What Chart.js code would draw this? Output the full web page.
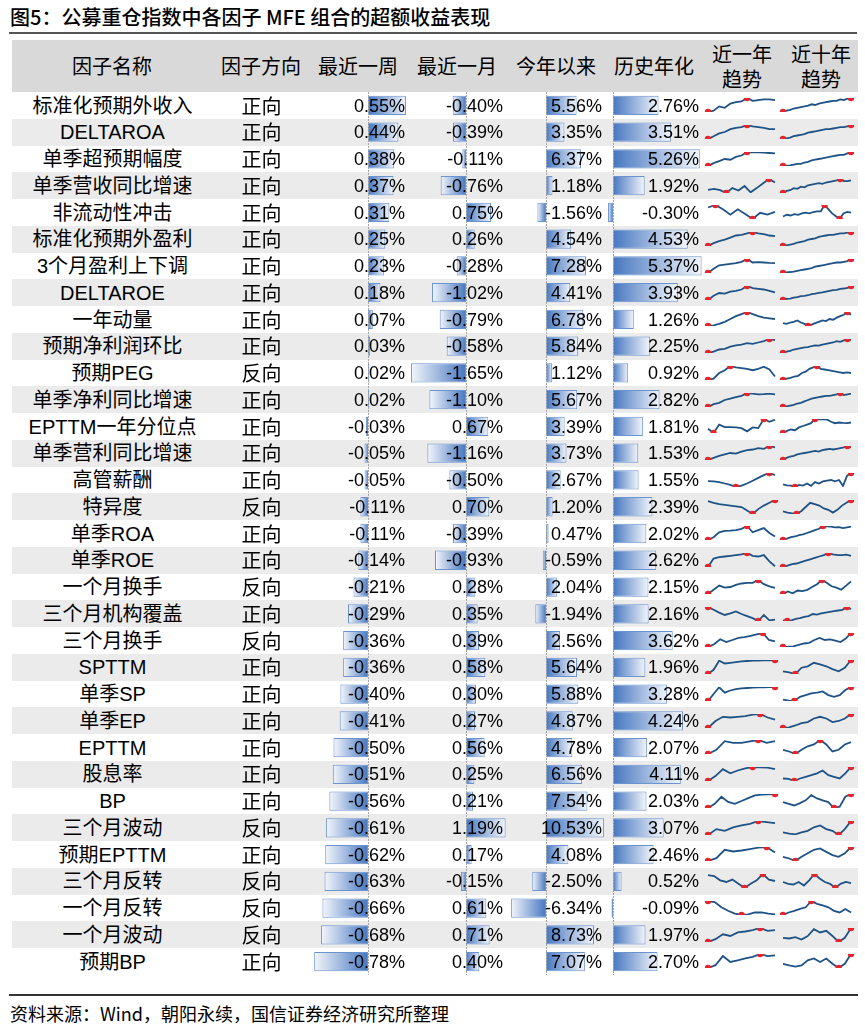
<!DOCTYPE html>
<html>
<head>
<meta charset="utf-8">
<script src="https://cdn.jsdelivr.net/npm/chart.js@4.4.1/dist/chart.umd.min.js"></script>
<style>
  body { margin:0; background:#fff; width:865px; height:1033px; position:relative; overflow:hidden;
         font-family:"Liberation Sans","Noto Sans CJK SC",sans-serif; color:#000; }
  .abs { position:absolute; white-space:nowrap; }
  canvas { position:absolute; }
  .hd { font-family:"Noto Sans CJK SC",sans-serif; font-size:20px; text-align:center; line-height:25px; }
</style>
</head>
<body>
<script>
// 数据
const factors = ['标准化预期外收入','DELTAROA','单季超预期幅度','单季营收同比增速','非流动性冲击','标准化预期外盈利',
  '3个月盈利上下调','DELTAROE','一年动量','预期净利润环比','预期PEG','单季净利同比增速','EPTTM一年分位点',
  '单季营利同比增速','高管薪酬','特异度','单季ROA','单季ROE','一个月换手','三个月机构覆盖','三个月换手','SPTTM',
  '单季SP','单季EP','EPTTM','股息率','BP','三个月波动','预期EPTTM','三个月反转','一个月反转','一个月波动','预期BP'];
const directions = ['正向','正向','正向','正向','正向','正向','正向','正向','正向','正向','反向','正向','正向',
  '正向','正向','反向','正向','正向','反向','正向','反向','正向','正向','正向','正向','正向','正向','反向','正向',
  '反向','反向','反向','正向'];
const weekRet = [0.55,0.44,0.38,0.37,0.31,0.25,0.23,0.18,0.07,0.03,0.02,0.02,-0.03,-0.05,-0.05,-0.11,-0.11,-0.14,
  -0.21,-0.29,-0.36,-0.36,-0.40,-0.41,-0.50,-0.51,-0.56,-0.61,-0.62,-0.63,-0.66,-0.68,-0.78];
const monthRet = [-0.40,-0.39,-0.11,-0.76,0.75,0.26,-0.28,-1.02,-0.79,-0.58,-1.65,-1.10,0.67,-1.16,-0.50,0.70,-0.39,
  -0.93,0.28,0.35,0.39,0.58,0.30,0.27,0.56,0.25,0.21,1.19,0.17,-0.15,0.61,0.71,0.40];
const ytdRet = [5.56,3.35,6.37,1.18,-1.56,4.54,7.28,4.41,6.78,5.84,1.12,5.67,3.39,3.73,2.67,1.20,0.47,-0.59,2.04,
  -1.94,2.56,5.64,5.88,4.87,4.78,6.56,7.54,10.53,4.08,-2.50,-6.34,8.73,7.07];
const annRet = [2.76,3.51,5.26,1.92,-0.30,4.53,5.37,3.93,1.26,2.25,0.92,2.82,1.81,1.53,1.55,2.39,2.02,2.62,2.15,
  2.16,3.62,1.96,3.28,4.24,2.07,4.11,2.03,3.07,2.46,0.52,-0.09,1.97,2.70];

// 近一年趋势（读图估计的相对走势）
const trend1y = [
  [0,1,4,3,6,7,7.5,10,8,8.5,9,9,8.5],
  [0,2,4,5,7,8,8.5,10,9,8.5,8,7,7],
  [0,2,3.5,5,4.5,6.5,7.5,10,9.8,9.7,9.5,9.3,9],
  [2.3,3,2,0,3.5,1.8,5,0.5,3.5,6.8,10,7.5],
  [8.2,10,6.9,3.1,6.9,3.6,0,4.4,3.1,5.1],
  [0,2,3.5,4.5,6,7.5,8,9,10,9,8.5,7.5,7],
  [0,3,5.5,6,6.5,7,8,10,7.5,7.7,7.5,7.2,7],
  [0,3,5,4.5,6,6.5,7.5,10,8.5,8,7.5,6.5,5.5],
  [0,0.5,1.5,3,5,7,8.5,10,8.5,7,6,5.5,5],
  [0,1,2.5,3,4.5,5.5,6,7,6.5,7.5,8.5,10,9.2],
  [0,1,5,7,10,9,8.5,8,7,8,9.5,7.5,2.5],
  [0,2,3,5,6,7,8,10,9.5,9,9.2,9.5,9],
  [3,0,6,4.2,4.2,4,3.5,1.2,4,3.5,10,8,9.5],
  [0,1.5,3,4,5,4.5,6,7,7.5,8.5,8,10,9],
  [4.2,4,3.5,2.5,1.5,0,1,2.5,4.5,6.5,8.5,10,8.5],
  [9.2,8,7,6.5,6,5.5,5,2.5,0,3.5,6,8,10],
  [0,2,5.5,6.5,6.7,7,8,10,5.5,7,8.5,5,2.5],
  [0,6,7,7.5,8,8.5,9,10,8,7.5,8.5,4,0.5],
  [0,3,6,4.5,5,6.5,7.5,8,8,10,7,5.5,4.3],
  [10,8,6,4.3,5.5,6.8,5,3.5,2,0,4.3,0.5,1],
  [0,2,5.5,3.5,5,6.5,7,8,9,10,5,4],
  [0,3,9.5,7.5,8,8.5,9,9.3,9.5,9.6,9.7,9.8,10],
  [0,5,9.8,6,7.5,8.5,9,9.3,9.6,9.7,9.8,9.9,10],
  [0,5,8,7.5,8,8.5,9.5,10,7.5,6],
  [0,3,9.2,8,8,9,10,8,9.2],
  [0,3.5,8.5,5.5,7.5,9,10,9.8,9.5,8.5],
  [0,3,8,4.3,3,5,7,9,9.5,9.8,10],
  [0,4.2,3,5.5,6.8,8,10,9.2,8.5],
  [0,2,8,6.8,7.5,8.5,9.5,10,6],
  [9.2,8.5,5.5,4.3,6,3,0,3,5.5,10,6,5],
  [10,9.2,5.5,3,1,0,0.5,1.8,1.8,1,0.5],
  [0,2,5.5,4.3,6.8,7.5,8.5,10,8,8.5],
  [0,2,8.5,4.3,5.5,6.8,8,10,8.5,9]
];
// 近十年趋势
const trend10y = [
  [0,1,1.5,2.5,3,3.5,4,4.5,5.5,5,6,6.5,7,7.5,8,8,9,8.5,9.5,10],
  [0,0.5,1,2,2.5,3,3.5,4.5,5,5.5,6,6.5,7,7,7.5,8,8.5,8.5,9,10],
  [0,0.3,0.5,1,1.5,1.5,2.5,3,4,4.5,5,5.5,6,6.5,7,7.5,8,8,9,10],
  [0,1.5,2,3.5,3,4.5,4,5.5,6,6.5,7,6.5,7.5,8,8.5,9,10,8.5,8.5,9],
  [1.8,3,2.5,3.5,3,4,4.5,4,5,5.5,5.5,10,7,4,2,0,4,5.1,4.5],
  [0,0.5,1,1.5,2.5,3,3.5,4.5,5,5.5,6.5,7,7.5,8,8,8.5,9,9,9.5,10],
  [0,0.5,0.7,1,1.5,2,2.5,3,3.5,4.5,5,5.5,6,6.5,7,7.5,7.5,8,8.5,10],
  [0,0.8,1,1.7,2,2.8,3,3.4,4.2,4.5,5.1,5.4,6,6.6,7,7.3,8,8.2,8.6,10],
  [2,1.5,2.5,3,4,2.5,1.5,0,1,2,3,4,3.5,5,4.5,6,7,8,10,8],
  [0,1,1.5,2.5,3,3.5,4,4.2,5,5.5,5.3,6,6.5,7,7.5,8.5,8,9,10,9.3],
  [0,1,1.5,2.5,3,5,6,8,9,10,8,7.5,7,6.5,6,5.5,5,5.5,5],
  [0,0.5,1,1.5,2.5,3,4,5,6,6.5,7,7.5,8,8,8.5,9,10,8.5,9,9.5],
  [0,1.5,2.5,2,4,5,6,7,10,9.8,9.7,9.6,8,7,7.5,7.2,7,7.5],
  [0,1.5,2.5,3,4,4.5,5,5.5,6,6.5,6,7,7.5,8,7.5,8,8.5,9,10,9],
  [1.8,1.2,1,0,1.5,1,2.5,0.8,3.5,2.5,4,4.5,5,4,5,0.8,8,10],
  [1.8,1,0.5,0,2,5,8,7,6,4,3,1,3,6,8,10],
  [0,1,2,2.5,3.5,4,5,6,7,8,10,9.8,9.5,9,9.2,8.5,9,9.5],
  [0,1,2,2.5,3.5,4.5,5.5,6.5,7.5,8.5,10,9,8.5,8.5,8.8,8],
  [0,1.8,0.5,2.5,2,3,5,7,10,8,5.5,4.5,3,6,9],
  [0.5,0,0.5,1.5,2,3,3.5,5,4.5,5.5,6,6.5,7,7.5,8,10,8.5],
  [0,0.2,0.5,1.5,2.5,3,5,6.5,5,5.5,4.5,3.5,6,10],
  [1.9,1.1,0,4.5,5.5,8,6.8,5.5,3.5,1.9,4.5,10],
  [1,0.2,0,3,4.2,5.5,6,6.8,4.2,3,4.2,7.8,10],
  [0,0.5,1.8,3.5,4.2,6.8,8,6.8,4.2,5,6.8,10],
  [3,1.8,0,3,5.5,6.8,10,6.8,1.8,3,6.8,8.5],
  [1.8,1.5,0,1.8,3,4.2,5.5,7.5,4.2,3,1.8,5.5,10],
  [4.2,3,1.8,3.5,5.5,9.2,6.8,5.5,4.2,0,1,8,10],
  [1.8,1,0.5,1.8,3,5.5,6.8,4.2,3,0,4.2,10],
  [3,1.8,0,3,5.5,8,9,6.5,4.2,3,5.5,10],
  [4.3,3,2.5,4.3,1.8,5.5,10,6.8,4.3,3,0,3,4.3,3.5],
  [0,1.8,3,4.3,5.5,10,8,6.8,5.5,3,1.8,4.3,1.8],
  [3,2.5,3.5,1.8,4.3,9.2,6.8,8,4.3,0,3,10],
  [3,1.8,1,1.8,5.5,6.8,4.3,6.8,3,0,3,10]
];

const headers = [
  {t:'因子名称', x:112}, {t:'因子方向', x:261}, {t:'最近一周', x:358}, {t:'最近一月', x:457},
  {t:'今年以来', x:556}, {t:'历史年化', x:654}, {t:'近一年<br>趋势', x:742}, {t:'近十年<br>趋势', x:821}
];

// 版面
const TOP = 92, ROWH = 26.75, N = factors.length;
const TL = 12, TR = 858;

function addDiv(css, html) {
  const d = document.createElement('div');
  d.className = 'abs';
  d.style.cssText = css;
  if (html !== undefined) d.innerHTML = html;
  document.body.appendChild(d);
  return d;
}

// 标题与线
addDiv('left:10px;top:3px;font-family:"Noto Sans CJK SC";font-size:20px;font-weight:500;line-height:28px;', '图5：公募重仓指数中各因子 MFE 组合的超额收益表现');
addDiv('left:9px;top:32px;width:848px;height:2px;background:#555;');
addDiv(`left:${TL}px;top:40px;width:${TR-TL}px;height:${TOP-40}px;background:#d9d9d9;`);
headers.forEach(h => {
  addDiv(`left:${h.x-50}px;width:100px;top:${h.t.includes('<br>') ? 41 : 53}px;`, h.t).classList.add('hd');
});

// 行底色
for (let i = 0; i < N; i++) {
  if (i % 2 === 1) addDiv(`left:${TL}px;top:${TOP + i*ROWH}px;width:${TR-TL}px;height:${ROWH}px;background:#ebebeb;`);
}

// 数据条
const zeroLine = {
  id: 'zeroLine',
  afterDatasetsDraw(chart) {
    const x = Math.round(chart.scales.x.getPixelForValue(0)) + 0.5;
    const c = chart.ctx;
    c.save();
    c.strokeStyle = '#a8a8a8';
    c.lineWidth = 1;
    c.setLineDash([2, 1]);
    c.beginPath();
    c.moveTo(x, chart.chartArea.top);
    c.lineTo(x, chart.chartArea.bottom);
    c.stroke();
    c.restore();
  }
};

function barColumn(values, left, width, zeroX, pxPer) {
  const cv = document.createElement('canvas');
  const h = Math.round(N * ROWH);
  cv.width = width; cv.height = h;
  cv.style.left = left + 'px'; cv.style.top = TOP + 'px';
  document.body.appendChild(cv);
  new Chart(cv, {
    type: 'bar',
    data: {
      labels: factors,
      datasets: [{
        data: values,
        backgroundColor: (c) => {
          const xs = c.chart.scales.x;
          if (!xs || c.raw === undefined) return '#5a88c8';
          const x0 = xs.getPixelForValue(0), x1 = xs.getPixelForValue(c.raw);
          if (!isFinite(x0) || !isFinite(x1) || x0 === x1) return '#5a88c8';
          const g = c.chart.ctx.createLinearGradient(x0, 0, x1, 0);
          g.addColorStop(0, '#4677c0');
          g.addColorStop(1, '#f3f6fb');
          return g;
        },
        borderColor: '#6a93cf',
        borderWidth: 1,
        borderSkipped: false,
        barPercentage: 0.72,
        categoryPercentage: 1
      }]
    },
    options: {
      indexAxis: 'y',
      responsive: false,
      animation: false,
      events: [],
      layout: { padding: 0 },
      plugins: { legend: { display: false }, tooltip: { enabled: false } },
      scales: {
        x: { display: false, min: -(zeroX - left) / pxPer, max: (left + width - zeroX) / pxPer },
        y: { display: false }
      }
    },
    plugins: [zeroLine]
  });
}

barColumn(weekRet, 308, 100, 368, 69);
barColumn(monthRet, 408, 100, 466, 33.3);
barColumn(ytdRet, 508, 98, 546, 5.5);
barColumn(annRet, 606, 98, 613, 16.5);

// 文字
const fmt = v => v.toFixed(2) + '%';
for (let i = 0; i < N; i++) {
  const y = TOP + i * ROWH + 0.5;
  const base = `top:${y}px;height:${ROWH}px;line-height:${ROWH}px;`;
  addDiv(base + `left:${TL}px;width:201px;text-align:center;font-size:20px;`, factors[i]);
  addDiv(base + `left:231px;width:61px;text-align:center;font-size:20px;font-family:"Noto Sans CJK SC";`, directions[i]);
  addDiv(base + `left:305px;width:100px;text-align:right;font-size:18px;`, fmt(weekRet[i]));
  addDiv(base + `left:403px;width:100px;text-align:right;font-size:18px;`, fmt(monthRet[i]));
  addDiv(base + `left:502px;width:100px;text-align:right;font-size:18px;`, fmt(ytdRet[i]));
  addDiv(base + `left:599px;width:100px;text-align:right;font-size:18px;`, fmt(annRet[i]));
}

// 趋势小图
function spark(data, left, top, width, height) {
  const cv = document.createElement('canvas');
  cv.width = width; cv.height = height;
  cv.style.left = left + 'px'; cv.style.top = top + 'px';
  document.body.appendChild(cv);
  const lo = Math.min(...data), hi = Math.max(...data);
  const iMin = data.indexOf(lo), iMax = data.indexOf(hi);
  new Chart(cv, {
    type: 'line',
    data: {
      labels: data.map((_, i) => i),
      datasets: [{
        data: data,
        borderColor: '#1f5285',
        borderWidth: 1.8,
        tension: 0,
        pointRadius: c => (c.dataIndex === iMin || c.dataIndex === iMax) ? 3.2 : 0,
        pointBackgroundColor: '#e3262c',
        pointBorderWidth: 0
      }]
    },
    options: {
      responsive: false,
      animation: false,
      events: [],
      layout: { padding: 4 },
      plugins: { legend: { display: false }, tooltip: { enabled: false } },
      scales: {
        x: { display: false },
        y: { display: false, min: lo, max: hi }
      }
    }
  });
}

for (let i = 0; i < N; i++) {
  const cy = TOP + (i + 0.5) * ROWH;
  spark(trend1y[i], 704, Math.round(cy - 11), 75, 22);
  spark(trend10y[i], 779, Math.round(cy - 11), 76, 22);
}

// 底部
addDiv('left:9px;top:994px;width:849px;height:2px;background:#333;');
addDiv('left:10px;top:1000px;font-family:"Noto Sans CJK SC";font-size:18px;line-height:26px;', '资料来源：Wind，朝阳永续，国信证券经济研究所整理');
</script>
</body>
</html>
